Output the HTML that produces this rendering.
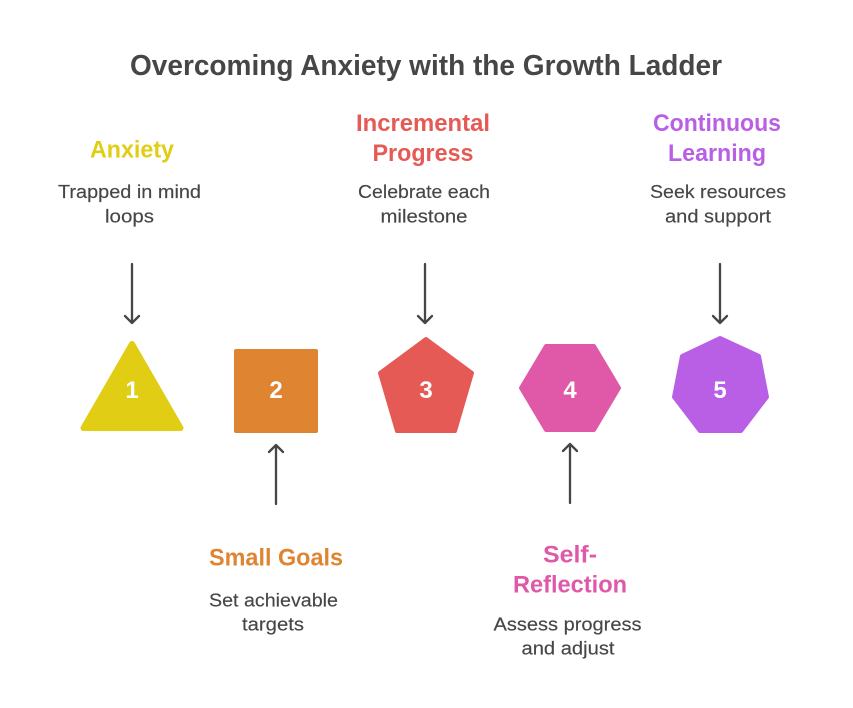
<!DOCTYPE html>
<html><head><meta charset="utf-8"><style>
html,body{margin:0;padding:0;background:#fff}
svg{display:block}
text{font-family:"Liberation Sans",sans-serif;text-anchor:middle}
.h{font-weight:700;font-size:24px}
.d{font-size:18px;fill:#464646;stroke:#464646;stroke-width:.15px}
.n{font-weight:700;font-size:24px;fill:#fff}
.a{fill:none;stroke:#464646;stroke-width:2.3;stroke-linecap:round;stroke-linejoin:round}
.s{stroke-width:4;stroke-linejoin:round}
</style></head><body>
<svg width="853" height="708" viewBox="0 0 853 708" xmlns="http://www.w3.org/2000/svg">
<rect width="853" height="708" fill="#fff"/>
<text x="426" y="75" font-size="29" font-weight="700" fill="#464646" textLength="592" lengthAdjust="spacingAndGlyphs">Overcoming Anxiety with the Growth Ladder</text>

<text class="h" x="132" y="157.5" fill="#e0cd14" textLength="84" lengthAdjust="spacingAndGlyphs">Anxiety</text>
<text class="d" x="129.5" y="198" textLength="143" lengthAdjust="spacingAndGlyphs">Trapped in mind</text>
<text class="d" x="129.5" y="222.5" textLength="49" lengthAdjust="spacingAndGlyphs">loops</text>

<text class="h" x="423" y="131" fill="#e65a55" textLength="134" lengthAdjust="spacingAndGlyphs">Incremental</text>
<text class="h" x="423" y="161" fill="#e65a55" textLength="101" lengthAdjust="spacingAndGlyphs">Progress</text>
<text class="d" x="424" y="198" textLength="132" lengthAdjust="spacingAndGlyphs">Celebrate each</text>
<text class="d" x="424" y="222.5" textLength="87" lengthAdjust="spacingAndGlyphs">milestone</text>

<text class="h" x="717" y="131" fill="#b85fe6" textLength="128" lengthAdjust="spacingAndGlyphs">Continuous</text>
<text class="h" x="717" y="161" fill="#b85fe6" textLength="98" lengthAdjust="spacingAndGlyphs">Learning</text>
<text class="d" x="718" y="198" textLength="136" lengthAdjust="spacingAndGlyphs">Seek resources</text>
<text class="d" x="718" y="222.5" textLength="106" lengthAdjust="spacingAndGlyphs">and support</text>

<text class="h" x="276" y="565.5" fill="#df8431" textLength="134" lengthAdjust="spacingAndGlyphs">Small Goals</text>
<text class="d" x="273.5" y="606.5" textLength="129" lengthAdjust="spacingAndGlyphs">Set achievable</text>
<text class="d" x="273" y="630.5" textLength="62" lengthAdjust="spacingAndGlyphs">targets</text>

<text class="h" x="570" y="562.5" fill="#df59a8" textLength="54" lengthAdjust="spacingAndGlyphs">Self-</text>
<text class="h" x="570" y="592.5" fill="#df59a8" textLength="114" lengthAdjust="spacingAndGlyphs">Reflection</text>
<text class="d" x="567.5" y="630.5" textLength="148" lengthAdjust="spacingAndGlyphs">Assess progress</text>
<text class="d" x="568" y="654.5" textLength="93" lengthAdjust="spacingAndGlyphs">and adjust</text>

<path class="a" d="M132 264V323M125 316L132 323L139 316"/>
<path class="a" d="M425 264V323M418 316L425 323L432 316"/>
<path class="a" d="M720 264V323M713 316L720 323L727 316"/>
<path class="a" d="M276 504V445M269 452L276 445L283 452"/>
<path class="a" d="M570 503V444M563 451L570 444L577 451"/>

<polygon fill="#e0cd14" stroke="#e0cd14" stroke-width="6" stroke-linejoin="round" points="132,344 180.5,428 83.5,428"/>
<rect class="s" fill="#df8431" stroke="#df8431" x="236" y="351" width="80" height="80"/>
<polygon class="s" fill="#e65a55" stroke="#e65a55" points="426,339 472,373 455,431 397,431 380,373"/>
<polygon class="s" fill="#df59a8" stroke="#df59a8" points="546,346 594,346 619,388 594,430 546,430 521,388"/>
<polygon class="s" fill="#b85fe6" stroke="#b85fe6" points="720,338 759,356 767,397 741,431 700,431 674,397 682,356"/>

<text class="n" x="132" y="398">1</text>
<text class="n" x="276" y="398">2</text>
<text class="n" x="426" y="398">3</text>
<text class="n" x="570" y="398">4</text>
<text class="n" x="720" y="398">5</text>
</svg>
</body></html>
